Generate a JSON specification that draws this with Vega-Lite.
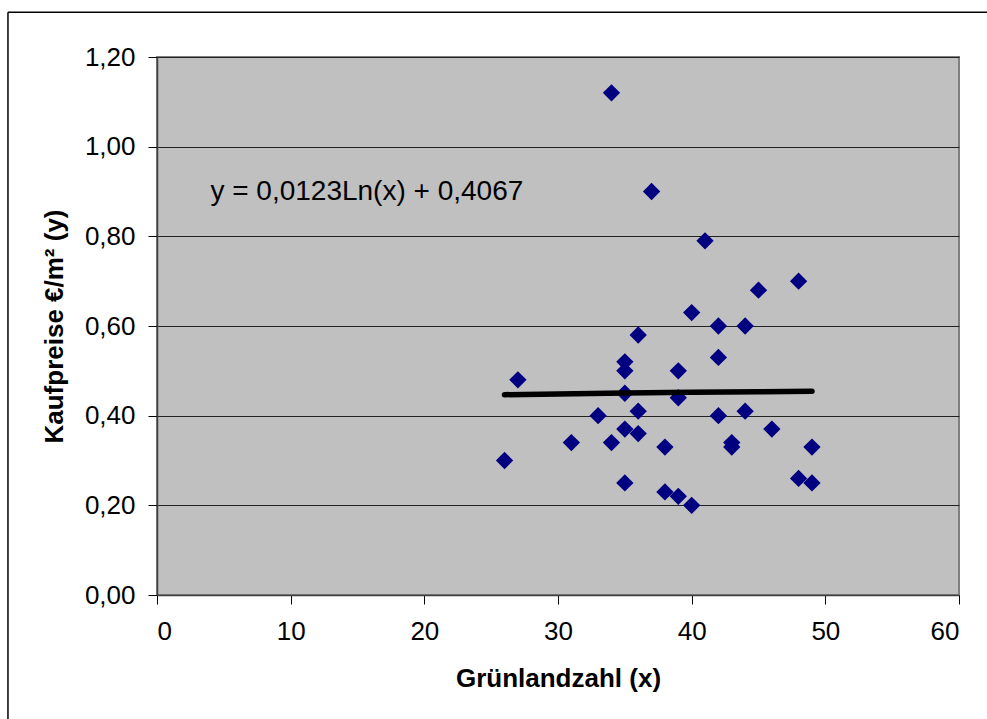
{
  "$schema": "https://vega.github.io/schema/vega-lite/v6.json",
  "autosize": {"type": "none"},
  "width": 802,
  "height": 538,
  "padding": {"left": 157, "top": 57, "right": 28, "bottom": 124},
  "background": "#ffffff",
  "datasets": {
    "points": [
      {"x": 26, "y": 0.30}, {"x": 27, "y": 0.48}, {"x": 31, "y": 0.34}, {"x": 33, "y": 0.40},
      {"x": 34, "y": 1.12}, {"x": 34, "y": 0.34}, {"x": 35, "y": 0.52}, {"x": 35, "y": 0.50},
      {"x": 35, "y": 0.45}, {"x": 35, "y": 0.37}, {"x": 35, "y": 0.25}, {"x": 36, "y": 0.58},
      {"x": 36, "y": 0.41}, {"x": 36, "y": 0.36}, {"x": 37, "y": 0.90}, {"x": 38, "y": 0.33},
      {"x": 38, "y": 0.23}, {"x": 39, "y": 0.50}, {"x": 39, "y": 0.44}, {"x": 39, "y": 0.22},
      {"x": 40, "y": 0.63}, {"x": 40, "y": 0.20}, {"x": 41, "y": 0.79}, {"x": 42, "y": 0.60},
      {"x": 42, "y": 0.53}, {"x": 42, "y": 0.40}, {"x": 43, "y": 0.34}, {"x": 43, "y": 0.33},
      {"x": 44, "y": 0.60}, {"x": 44, "y": 0.41}, {"x": 45, "y": 0.68}, {"x": 46, "y": 0.37},
      {"x": 48, "y": 0.70}, {"x": 48, "y": 0.26}, {"x": 49, "y": 0.33}, {"x": 49, "y": 0.25}
    ],
    "trend": [
      {"x": 26, "y": 0.4468}, {"x": 30, "y": 0.4485}, {"x": 35, "y": 0.4504},
      {"x": 40, "y": 0.4521}, {"x": 45, "y": 0.4535}, {"x": 49, "y": 0.4546}
    ],
    "label": [
      {"x": 15.7, "y": 0.9, "text": "y = 0,0123Ln(x) + 0,4067"}
    ]
  },
  "layer": [
    {
      "data": {"name": "points"},
      "mark": {"type": "point", "shape": "diamond", "filled": true, "color": "#000080", "size": 300, "opacity": 1},
      "encoding": {
        "x": {
          "field": "x", "type": "quantitative",
          "scale": {"domain": [0, 60], "nice": false, "zero": false},
          "axis": {
            "title": "Grünlandzahl (x)",
            "values": [0, 10, 20, 30, 40, 50, 60],
            "grid": false,
            "tickSize": 9,
            "labelPadding": 14,
            "titlePadding": 21,
            "titleFontSize": 26
          }
        },
        "y": {
          "field": "y", "type": "quantitative",
          "scale": {"domain": [0, 1.2], "nice": false, "zero": false},
          "axis": {
            "title": "Kaufpreise €/m² (y)",
            "values": [0, 0.2, 0.4, 0.6, 0.8, 1.0, 1.2],
            "format": ".2f",
            "grid": true,
            "tickSize": 9,
            "labelPadding": 13,
            "titlePadding": 17,
            "titleFontSize": 26
          }
        }
      }
    },
    {
      "data": {"name": "trend"},
      "mark": {"type": "line", "color": "#000000", "strokeWidth": 5.5, "strokeCap": "round"},
      "encoding": {
        "x": {"field": "x", "type": "quantitative"},
        "y": {"field": "y", "type": "quantitative"}
      }
    },
    {
      "data": {"name": "label"},
      "mark": {"type": "text", "font": "Liberation Sans", "fontSize": 28, "color": "#000000", "align": "center", "baseline": "middle"},
      "encoding": {
        "x": {"field": "x", "type": "quantitative"},
        "y": {"field": "y", "type": "quantitative"},
        "text": {"field": "text"}
      }
    },
    {
      "data": {"values": [{}]},
      "mark": {"type": "rule", "color": "#000000", "strokeWidth": 1.5},
      "encoding": {
        "x": {"datum": -11.15},
        "y": {"datum": 1.3},
        "y2": {"datum": -0.3}
      }
    },
    {
      "data": {"values": [{}]},
      "mark": {"type": "rule", "color": "#000000", "strokeWidth": 1.5},
      "encoding": {
        "x": {"datum": -11.15},
        "x2": {"datum": 63},
        "y": {"datum": 1.3}
      }
    }
  ],
  "config": {
    "locale": {"number": {"decimal": ",", "thousands": ".", "grouping": [3], "currency": ["", " €"]}},
    "view": {"fill": "#C0C0C0", "stroke": "#808080", "strokeWidth": 2},
    "font": "Liberation Sans",
    "axis": {
      "labelFont": "Liberation Sans",
      "labelFontSize": 26,
      "labelColor": "#000000",
      "titleFont": "Liberation Sans",
      "titleFontSize": 25,
      "titleFontWeight": "bold",
      "titleColor": "#000000",
      "tickColor": "#000000",
      "tickWidth": 1,
      "domainColor": "#404040",
      "domainWidth": 1.5,
      "gridColor": "#222222",
      "gridWidth": 1,
      "gridOpacity": 1
    }
  }
}
